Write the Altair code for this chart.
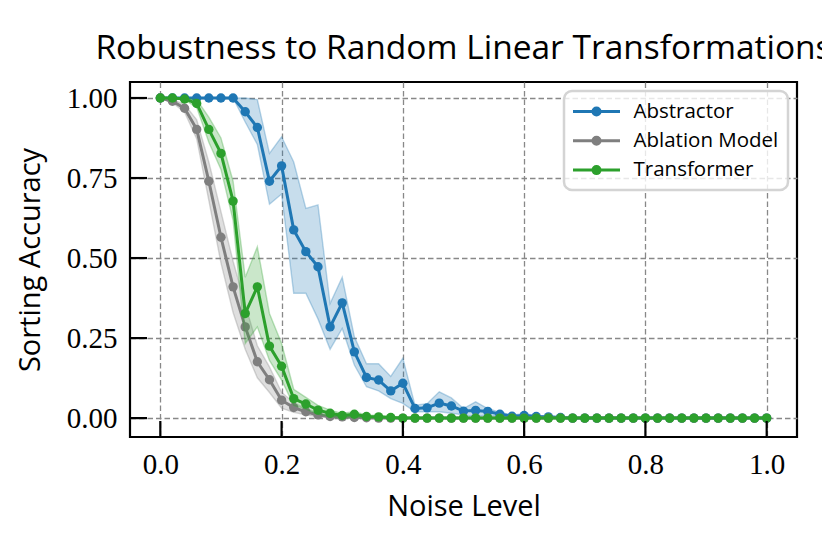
import altair as alt
import pandas as pd

# ---------------- data ----------------
noise = [0.00, 0.02, 0.04, 0.06, 0.08, 0.10, 0.12, 0.14, 0.16, 0.18,
         0.20, 0.22, 0.24, 0.26, 0.28, 0.30, 0.32, 0.34, 0.36, 0.38,
         0.40, 0.42, 0.44, 0.46, 0.48, 0.50, 0.52, 0.54, 0.56, 0.58,
         0.60, 0.62, 0.64, 0.66, 0.68, 0.70, 0.72, 0.74, 0.76, 0.78,
         0.80, 0.82, 0.84, 0.86, 0.88, 0.90, 0.92, 0.94, 0.96, 0.98,
         1.00]

models = ["Abstractor", "Ablation Model", "Transformer"]
colors = ["#1f77b4", "#7f7f7f", "#2ca02c"]

abs_mean = [1.0, 1.0, 1.0, 1.0, 1.0, 1.0, 1.0, 0.957, 0.908, 0.740,
            0.788, 0.588, 0.520, 0.473, 0.285, 0.360, 0.207, 0.127, 0.119, 0.085,
            0.109, 0.030, 0.032, 0.047, 0.038, 0.022, 0.024, 0.021, 0.012, 0.006,
            0.008, 0.005, 0.004, 0.002, 0.0, 0.0, 0.0, 0.0, 0.0, 0.0,
            0.0, 0.0, 0.0, 0.0, 0.0, 0.0, 0.0, 0.0, 0.0, 0.0,
            0.0]
abs_hi = [1.0, 1.0, 1.0, 1.0, 1.0, 1.0, 1.0, 1.0, 0.995, 0.827,
          0.879, 0.800, 0.655, 0.666, 0.358, 0.440, 0.254, 0.170, 0.170, 0.130,
          0.187, 0.040, 0.045, 0.082, 0.063, 0.030, 0.051, 0.030, 0.018, 0.010,
          0.014, 0.008, 0.006, 0.004, 0.0, 0.0, 0.0, 0.0, 0.0, 0.0,
          0.0, 0.0, 0.0, 0.0, 0.0, 0.0, 0.0, 0.0, 0.0, 0.0,
          0.0]
abs_lo = [1.0, 1.0, 1.0, 1.0, 1.0, 1.0, 1.0, 0.925, 0.855, 0.668,
          0.700, 0.390, 0.390, 0.310, 0.215, 0.280, 0.166, 0.098, 0.085, 0.061,
          0.046, 0.020, 0.020, 0.020, 0.015, 0.010, 0.005, 0.010, 0.006, 0.002,
          0.003, 0.002, 0.002, 0.0, 0.0, 0.0, 0.0, 0.0, 0.0, 0.0,
          0.0, 0.0, 0.0, 0.0, 0.0, 0.0, 0.0, 0.0, 0.0, 0.0,
          0.0]

abl_mean = [1.0, 0.990, 0.968, 0.902, 0.740, 0.565, 0.410, 0.285, 0.176, 0.120,
            0.056, 0.033, 0.020, 0.010, 0.005, 0.004, 0.002, 0.001, 0.0, 0.0,
            0.0, 0.0, 0.0, 0.0, 0.0, 0.0, 0.0, 0.0, 0.0, 0.0,
            0.0, 0.0, 0.0, 0.0, 0.0, 0.0, 0.0, 0.0, 0.0, 0.0,
            0.0, 0.0, 0.0, 0.0, 0.0, 0.0, 0.0, 0.0, 0.0, 0.0,
            0.0]
abl_hi = [1.0, 0.995, 0.980, 0.932, 0.800, 0.645, 0.490, 0.355, 0.226, 0.160,
          0.081, 0.048, 0.030, 0.016, 0.009, 0.007, 0.004, 0.002, 0.0, 0.0,
          0.0, 0.0, 0.0, 0.0, 0.0, 0.0, 0.0, 0.0, 0.0, 0.0,
          0.0, 0.0, 0.0, 0.0, 0.0, 0.0, 0.0, 0.0, 0.0, 0.0,
          0.0, 0.0, 0.0, 0.0, 0.0, 0.0, 0.0, 0.0, 0.0, 0.0,
          0.0]
abl_lo = [1.0, 0.985, 0.956, 0.872, 0.680, 0.485, 0.330, 0.215, 0.126, 0.080,
          0.031, 0.018, 0.010, 0.004, 0.001, 0.001, 0.0, 0.0, 0.0, 0.0,
          0.0, 0.0, 0.0, 0.0, 0.0, 0.0, 0.0, 0.0, 0.0, 0.0,
          0.0, 0.0, 0.0, 0.0, 0.0, 0.0, 0.0, 0.0, 0.0, 0.0,
          0.0, 0.0, 0.0, 0.0, 0.0, 0.0, 0.0, 0.0, 0.0, 0.0,
          0.0]

trf_mean = [1.0, 1.0, 0.997, 0.983, 0.902, 0.827, 0.678, 0.327, 0.410, 0.225,
            0.162, 0.061, 0.044, 0.025, 0.015, 0.008, 0.012, 0.005, 0.004, 0.002,
            0.0, 0.0, 0.0, 0.0, 0.0, 0.0, 0.0, 0.0, 0.0, 0.0,
            0.0, 0.0, 0.0, 0.0, 0.0, 0.0, 0.0, 0.0, 0.0, 0.0,
            0.0, 0.0, 0.0, 0.0, 0.0, 0.0, 0.0, 0.0, 0.0, 0.0,
            0.0]
trf_hi = [1.0, 1.0, 1.0, 0.995, 0.940, 0.875, 0.740, 0.440, 0.535, 0.327,
          0.233, 0.090, 0.065, 0.040, 0.025, 0.015, 0.020, 0.010, 0.008, 0.004,
          0.0, 0.0, 0.0, 0.0, 0.0, 0.0, 0.0, 0.0, 0.0, 0.0,
          0.0, 0.0, 0.0, 0.0, 0.0, 0.0, 0.0, 0.0, 0.0, 0.0,
          0.0, 0.0, 0.0, 0.0, 0.0, 0.0, 0.0, 0.0, 0.0, 0.0,
          0.0]
trf_lo = [1.0, 1.0, 0.994, 0.971, 0.862, 0.777, 0.618, 0.233, 0.285, 0.180,
          0.119, 0.040, 0.028, 0.012, 0.006, 0.002, 0.004, 0.0, 0.0, 0.0,
          0.0, 0.0, 0.0, 0.0, 0.0, 0.0, 0.0, 0.0, 0.0, 0.0,
          0.0, 0.0, 0.0, 0.0, 0.0, 0.0, 0.0, 0.0, 0.0, 0.0,
          0.0, 0.0, 0.0, 0.0, 0.0, 0.0, 0.0, 0.0, 0.0, 0.0,
          0.0]

xticks = [0.0, 0.2, 0.4, 0.6, 0.8, 1.0]
yticks = [0.0, 0.25, 0.5, 0.75, 1.0]

# ---------------- table ----------------
rows = []
for name, m, lo, hi in zip(models,
                           [abs_mean, abl_mean, trf_mean],
                           [abs_lo, abl_lo, trf_lo],
                           [abs_hi, abl_hi, trf_hi]):
    for x, a, l, h in zip(noise, m, lo, hi):
        rows.append({"model": name, "noise": x, "acc": a, "lo": l, "hi": h})
df = pd.DataFrame(rows)

# ---------------- encodings ----------------
W, H = 667, 355
xscale = alt.Scale(domain=[-0.05, 1.05], nice=False, zero=False)
yscale = alt.Scale(domain=[-0.059, 1.05], nice=False, zero=False)
xaxis = alt.Axis(values=xticks, format=".1f", titleY=78, titleBaseline="alphabetic",
                 labelFlush=False, grid=True)
yaxis = alt.Axis(values=yticks, format=".2f", titleX=-91, titleBaseline="alphabetic",
                 labelFlush=False, grid=True)


def X(f="noise"):
    return alt.X(f"{f}:Q", scale=xscale, axis=xaxis, title="Noise Level")


def Y(f):
    return alt.Y(f"{f}:Q", scale=yscale, axis=yaxis, title="Sorting Accuracy")


def ring(r):
    return f"M{-r},0A{r},{r},0,1,1,{r},0A{r},{r},0,1,1,{-r},0Z"


legend_path = "M-2.35,0H2.35" + ring(0.12) + ring(0.35)

stroke_enc = alt.Stroke(
    "model:N",
    scale=alt.Scale(domain=models, range=colors),
    title=None,
    legend=alt.Legend(
        orient="top-right", offset=9, symbolType=legend_path, symbolSize=400,
        symbolStrokeWidth=3, padding=9, rowPadding=7.3, labelOffset=25.5,
        symbolOffset=12, labelFont="Open Sans", labelFontSize=20.5,
        labelColor="black", fillColor="rgba(255,255,255,0.8)",
        strokeColor="#d4d4d4", cornerRadius=8,
    ),
)

layers = []
for name, c in zip(models, colors):
    band = alt.Chart().mark_area(
        fill=c, fillOpacity=0.25, stroke=c, strokeOpacity=0.3, strokeWidth=1.4
    ).encode(x=X(), y=Y("lo"), y2=alt.Y2("hi:Q")).transform_filter(alt.datum.model == name)
    line = alt.Chart().mark_line(strokeWidth=3).encode(
        x=X(), y=Y("acc"), stroke=stroke_enc
    ).transform_filter(alt.datum.model == name)
    pts = alt.Chart().mark_circle(size=88, opacity=1, color=c).encode(
        x=X(), y=Y("acc")
    ).transform_filter(alt.datum.model == name)
    layers += [band, line, pts]

ytick = alt.Chart(pd.DataFrame({"acc": yticks})).mark_rule(
    color="black", strokeWidth=2.2
).encode(y=Y("acc"), x=alt.value(0), x2=alt.value(17))
xtick = alt.Chart(pd.DataFrame({"noise": xticks})).mark_rule(
    color="black", strokeWidth=2.2
).encode(x=X(), y=alt.value(H), y2=alt.value(H - 16))
layers += [ytick, xtick]

chart = alt.layer(*layers, data=df).properties(
    width=W,
    height=H,
    padding={"left": 122, "top": 74, "right": 25, "bottom": 109},
    autosize=alt.AutoSizeParams(type="none"),
    title=alt.TitleParams(
        text="Robustness to Random Linear Transformations",
        font="Open Sans", fontSize=33.5, fontWeight="normal", color="black",
        anchor="middle", frame="group", baseline="alphabetic", offset=23, dy=33,
    ),
).configure_view(
    stroke="black", strokeWidth=2.2
).configure_axis(
    domain=False, ticks=False, tickSize=0, labelPadding=13,
    labelFont="Liberation Serif", labelFontSize=29, labelColor="black",
    titleFont="Open Sans", titleFontSize=29, titleFontWeight="normal", titleColor="black",
    gridColor="#888888", gridDash=[5.5, 3], gridWidth=1.3, gridOpacity=1,
).configure_legend(
    strokeWidth=2.5
)

chart.save("out.html", embed_options={"renderer": "svg", "actions": False})
